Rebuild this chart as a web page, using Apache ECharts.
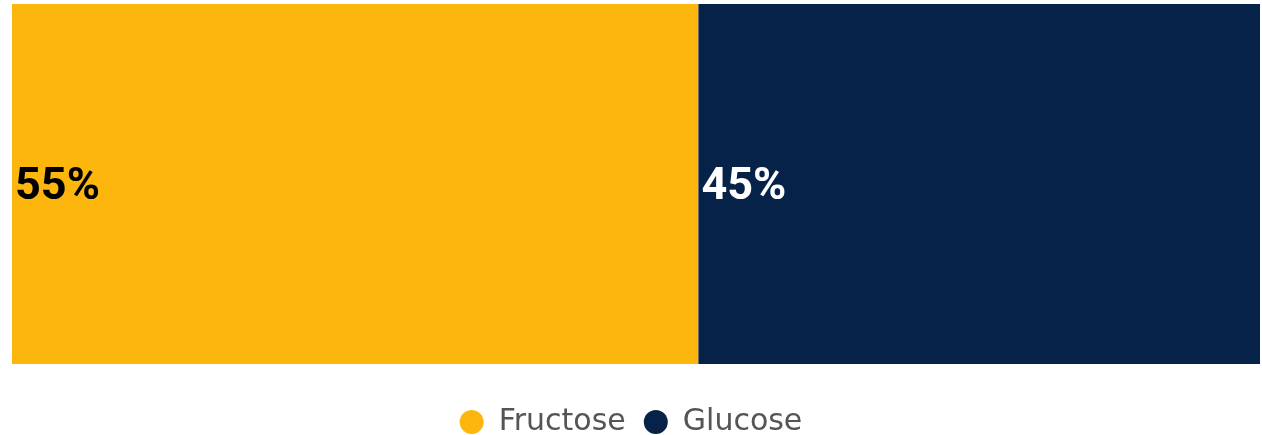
<!DOCTYPE html>
<html>
<head>
<meta charset="utf-8">
<script src="https://cdn.jsdelivr.net/npm/echarts@6/dist/echarts.min.js"></script>
<style>
  html, body { margin: 0; padding: 0; background: #ffffff; }
  #chart { width: 1262px; height: 435px; }
</style>
</head>
<body>
<div id="chart"></div>
<script>
// Share of each sugar in the mix (percent)
const categories = ['Sugar'];
const seriesNames = ['Fructose', 'Glucose'];
const fructoseValues = [55];
const glucoseValues = [45];
const seriesColors = ['#FDB60D', '#072249'];
const labelColors = ['#000000', '#ffffff'];

const chart = echarts.init(document.getElementById('chart'), null, { renderer: 'canvas' });

const valueSets = [fructoseValues, glucoseValues];

const series = seriesNames.map((name, i) => ({
  name: name,
  type: 'bar',
  stack: 'total',
  barWidth: '100%',
  data: valueSets[i],
  itemStyle: { color: seriesColors[i] },
  label: {
    show: true,
    position: 'insideLeft',
    distance: 3,
    offset: [0, 4],
    formatter: '{c}%',
    color: labelColors[i],
    fontFamily: 'Roboto',
    fontWeight: 'bold',
    fontSize: 45
  },
  emphasis: { disabled: true }
}));

chart.setOption({
  animation: false,
  grid: { left: 12, right: 2, top: 4, bottom: 71, containLabel: false },
  xAxis: {
    type: 'value',
    min: 0,
    max: 100,
    show: false
  },
  yAxis: {
    type: 'category',
    data: categories,
    show: false
  },
  legend: {
    data: seriesNames,
    top: 407,
    left: 'center',
    padding: 0,
    icon: 'circle',
    itemWidth: 24,
    itemHeight: 24,
    itemGap: 18,
    textStyle: {
      fontFamily: 'DejaVu Sans',
      fontSize: 30,
      color: '#555555',
      padding: [0, 0, 0, 10]
    }
  },
  series: series
});
</script>
</body>
</html>
